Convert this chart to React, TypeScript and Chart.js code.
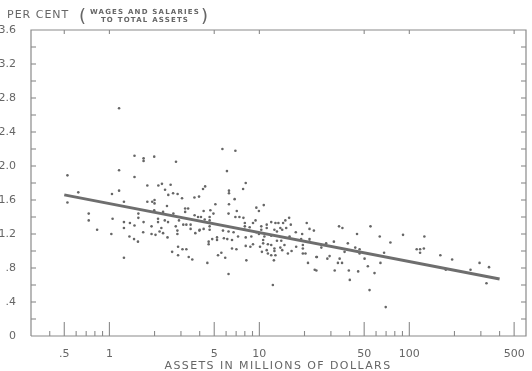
import React, { useEffect, useRef } from "react";
import { Chart, registerables } from "chart.js";

Chart.register(...registerables);

// Assets (millions of dollars) and wages+salaries as per cent of total assets
const assetsSmall = [
  1.16, 1.47, 0.525, 1.16, 1.47, 0.62, 1.04, 1.16, 1.25, 0.525, 0.728, 0.728, 1.05, 1.25, 1.37, 1.47, 1.25, 0.828, 1.03, 1.36, 1.46, 1.25,
  1.69, 1.69, 1.99, 2.78, 1.79, 2.12, 2.24, 2.56, 2.35, 2.47, 2.66, 2.85, 3.05, 3.69, 3.96, 1.79, 1.93, 2.0, 2.0, 2.42, 1.56, 1.56, 1.99, 2.28, 2.67,
  3.2, 3.2, 3.35, 2.11, 2.11, 2.34, 2.46, 2.91, 3.7, 3.9, 1.69, 2.77, 3.11, 3.26, 3.48, 3.48, 1.91, 2.22, 2.16, 1.68, 1.91, 2.03, 2.28, 2.84, 2.84,
  3.74, 3.98, 2.44, 1.55, 2.87, 3.07, 3.26, 2.62, 2.87, 3.38, 3.57,
];
const ratioSmall = [
  2.68, 2.12, 1.89, 1.95, 1.87, 1.69, 1.67, 1.71, 1.58, 1.57, 1.44, 1.36, 1.38, 1.34, 1.33, 1.3, 1.27, 1.25, 1.2, 1.17, 1.14, 0.92,
  2.09, 2.06, 2.11, 2.05, 1.77, 1.77, 1.79, 1.78, 1.72, 1.66, 1.68, 1.67, 1.62, 1.63, 1.64, 1.58, 1.58, 1.6, 1.56, 1.53, 1.44, 1.39, 1.48, 1.46, 1.44,
  1.5, 1.46, 1.5, 1.38, 1.34, 1.36, 1.34, 1.36, 1.42, 1.4, 1.34, 1.29, 1.31, 1.31, 1.31, 1.26, 1.29, 1.27, 1.23, 1.22, 1.2, 1.19, 1.21, 1.24, 1.2,
  1.21, 1.24, 1.16, 1.11, 1.05, 1.02, 1.02, 0.99, 0.95, 0.93, 0.9,
];
const assetsMid = [
  5.67, 6.92, 6.08, 8.11, 7.79, 4.35, 4.21, 6.27, 6.27, 6.84, 5.09, 6.27, 9.55, 9.93, 4.71, 4.25, 7.07, 4.94, 6.23, 6.92, 7.36, 7.83, 4.08, 4.32, 9.43,
  9.07, 4.66, 4.66, 4.66, 4.66, 8.0, 8.0, 8.0, 8.62, 4.0, 4.25, 5.72, 6.23, 6.73, 9.55, 9.93, 7.21, 4.85, 5.22, 5.22, 5.8, 6.57, 6.11, 8.11, 8.84,
  4.59, 4.59, 8.11, 8.71, 9.07, 6.57, 7.03, 5.3, 5.58, 5.92, 8.19, 4.5, 6.23,
];
const ratioMid = [
  2.2, 2.18, 1.94, 1.8, 1.73, 1.76, 1.73, 1.71, 1.68, 1.61, 1.55, 1.55, 1.51, 1.47, 1.48, 1.47, 1.47, 1.44, 1.44, 1.4, 1.4, 1.39, 1.4, 1.37, 1.36,
  1.33, 1.4, 1.36, 1.29, 1.25, 1.33, 1.29, 1.25, 1.28, 1.25, 1.26, 1.24, 1.23, 1.22, 1.22, 1.2, 1.17, 1.14, 1.16, 1.13, 1.15, 1.13, 1.14, 1.16, 1.17,
  1.11, 1.08, 1.06, 1.05, 1.08, 1.03, 1.02, 0.95, 0.98, 0.92, 0.89, 0.86, 0.73,
];
const assetsLarge = [
  10.7, 12.0, 12.8, 13.4, 14.4, 15.8, 14.9, 16.2, 15.1, 13.8, 14.2, 20.7, 21.6, 23.1, 11.2, 11.2, 10.3, 10.3, 12.6, 13.1, 17.5, 19.3, 12.0, 10.8, 15.9,
  19.0, 21.6, 21.6, 13.1, 14.0, 10.6, 10.6, 11.4, 12.0, 14.7, 17.6, 19.5, 19.5, 10.1, 11.2, 13.8, 10.4, 12.6, 12.6, 16.4, 15.5, 14.2, 19.5, 20.3, 11.4,
  12.0, 12.8, 24.0, 21.1, 12.5, 23.4, 12.3,
  34.0, 35.8, 55.1, 44.8, 63.5, 74.8, 31.4, 27.9, 25.9, 25.9, 38.9, 43.6, 46.6, 46.6, 37.0, 67.9, 24.2, 29.4, 28.4, 34.3, 33.4, 35.6, 50.3, 64.2, 52.9,
  31.8, 39.5, 45.6, 58.6, 24.0, 40.1, 54.3, 69.6,
  90.8, 126, 112, 118, 125, 118, 161, 193, 175, 256, 294, 340, 327,
];
const ratioLarge = [
  1.54, 1.34, 1.33, 1.33, 1.33, 1.39, 1.36, 1.31, 1.27, 1.27, 1.25, 1.33, 1.26, 1.24, 1.31, 1.27, 1.29, 1.25, 1.25, 1.23, 1.22, 1.2, 1.18, 1.17, 1.17,
  1.14, 1.14, 1.11, 1.12, 1.12, 1.13, 1.09, 1.08, 1.07, 1.07, 1.05, 1.07, 1.03, 1.05, 1.01, 1.04, 0.99, 1.03, 1.0, 1.0, 0.97, 1.01, 0.97, 0.97, 0.97,
  0.95, 0.95, 0.93, 0.86, 0.89, 0.78, 0.6,
  1.29, 1.27, 1.29, 1.2, 1.17, 1.1, 1.11, 1.09, 1.07, 1.04, 1.09, 1.04, 1.02, 0.97, 0.99, 0.98, 0.93, 0.94, 0.91, 0.91, 0.86, 0.86, 0.91, 0.86, 0.82,
  0.77, 0.77, 0.76, 0.74, 0.77, 0.66, 0.54, 0.34,
  1.19, 1.17, 1.02, 1.02, 1.03, 0.98, 0.95, 0.9, 0.78, 0.78, 0.86, 0.81, 0.62,
];

// Fitted regression line (end points)
const fitX = [0.5, 400];
const fitY = [1.66, 0.67];

// Axes
const X_MIN = 0.3;
const X_MAX = 600;
const Y_MIN = 0;
const Y_MAX = 3.6;
const xTickValues = [0.5, 1, 5, 10, 50, 100, 500];
const xTickLabels = [".5", "1", "5", "10", "50", "100", "500"];
const xMinorTicks = [0.4, 0.6, 0.7, 0.8, 0.9, 2, 3, 4, 6, 7, 8, 9, 20, 30, 40, 60, 70, 80, 90, 200, 300, 400];
const yTickValues = [0, 0.4, 0.8, 1.2, 1.6, 2.0, 2.4, 2.8, 3.2, 3.6];
const yTickLabels = ["0", ".4", ".8", "1.2", "1.6", "2.0", "2.4", "2.8", "3.2", "3.6"];
const yMinorTicks = [0.2, 0.6, 1.0, 1.4, 1.8, 2.2, 2.6, 3.0, 3.4];

const xTitle = "ASSETS IN MILLIONS OF DOLLARS";
const yTitle = "PER CENT";
const yTitleNote1 = "WAGES AND SALARIES";
const yTitleNote2 = "TO TOTAL ASSETS";

const INK = "#666666";
const FRAME = "#8a8a8a";
const FONT = "'DejaVu Sans', sans-serif";

const titlePlugin = {
  id: "titles",
  afterDraw(chart: any) {
    const ctx = chart.ctx;
    ctx.save();
    ctx.fillStyle = INK;
    ctx.textBaseline = "alphabetic";
    ctx.letterSpacing = "1px";
    ctx.font = "11px " + FONT;
    ctx.textAlign = "left";
    ctx.fillText(yTitle, 7, 18);
    ctx.letterSpacing = "0px";
    ctx.font = "18px " + FONT;
    ctx.fillText("(", 79, 22);
    ctx.fillText(")", 201, 22);
    ctx.letterSpacing = "1.2px";
    ctx.font = "bold 7px " + FONT;
    ctx.textAlign = "center";
    ctx.fillText(yTitleNote1, 145, 14);
    ctx.fillText(yTitleNote2, 145, 22);
    ctx.letterSpacing = "1.4px";
    ctx.font = "11px " + FONT;
    ctx.fillText(xTitle, 278, 369);
    ctx.restore();
  },
};

export default function App() {
  const canvasRef = useRef<HTMLCanvasElement | null>(null);

  useEffect(() => {
    if (!canvasRef.current) return;
    const assets = [...assetsSmall, ...assetsMid, ...assetsLarge];
    const ratio = [...ratioSmall, ...ratioMid, ...ratioLarge];
    const points = assets.map((x, i) => ({ x, y: ratio[i] }));
    const fit = fitX.map((x, i) => ({ x, y: fitY[i] }));

    // frame of the plot area, in axis units
    const frame = [
      { x: X_MIN, y: Y_MIN },
      { x: X_MAX, y: Y_MIN },
      { x: X_MAX, y: Y_MAX },
      { x: X_MIN, y: Y_MAX },
      { x: X_MIN, y: Y_MIN },
    ];

    // inward tick marks, one small line dataset each (lengths in axis units)
    const yPerPx = (Y_MAX - Y_MIN) / 306;
    const xFactor5 = Math.pow(10, 5 / 150);
    const tickSets: any[] = [];
    const addTick = (p1: any, p2: any) =>
      tickSets.push({
        type: "line",
        data: [p1, p2],
        borderColor: FRAME,
        borderWidth: 1.1,
        pointRadius: 0,
        fill: false,
        clip: 4,
      });
    xTickValues.forEach((v) => {
      addTick({ x: v, y: Y_MIN }, { x: v, y: Y_MIN + 14 * yPerPx });
      addTick({ x: v, y: Y_MAX - 4 * yPerPx }, { x: v, y: Y_MAX });
    });
    xMinorTicks.forEach((v) => {
      addTick({ x: v, y: Y_MIN }, { x: v, y: Y_MIN + 5 * yPerPx });
    });
    [...yTickValues, ...yMinorTicks].forEach((v) => {
      if (v <= Y_MIN || v >= Y_MAX) return;
      addTick({ x: X_MIN, y: v }, { x: X_MIN * xFactor5, y: v });
      addTick({ x: X_MAX / xFactor5, y: v }, { x: X_MAX, y: v });
    });

    const chart = new Chart(canvasRef.current, {
      type: "scatter",
      data: {
        datasets: [
          {
            type: "line",
            data: fit,
            borderColor: "#6e6e6e",
            borderWidth: 3,
            pointRadius: 0,
            fill: false,
          } as any,
          {
            type: "scatter",
            data: points,
            pointRadius: 1.3,
            pointBackgroundColor: "#666666",
            pointBorderWidth: 0,
          },
          {
            type: "line",
            data: frame,
            borderColor: FRAME,
            borderWidth: 1.2,
            pointRadius: 0,
            fill: false,
            clip: 4,
          } as any,
          ...tickSets,
        ],
      },
      options: {
        animation: false,
        responsive: true,
        maintainAspectRatio: false,
        layout: { padding: { top: 30, right: 6, left: 0, bottom: 0 } },
        plugins: { legend: { display: false }, tooltip: { enabled: false } },
        scales: {
          x: {
            type: "logarithmic",
            min: X_MIN,
            max: X_MAX,
            grid: { display: false },
            border: { display: false },
            afterBuildTicks: (s: any) => {
              s.ticks = xTickValues.map((v) => ({ value: v }));
            },
            afterFit: (s: any) => {
              s.height = 35;
            },
            ticks: {
              autoSkip: false,
              maxRotation: 0,
              minRotation: 0,
              padding: 4,
              color: INK,
              font: { family: FONT, size: 11 },
              callback: (_v: any, i: number) => xTickLabels[i],
            },
          },
          y: {
            min: Y_MIN,
            max: Y_MAX,
            grid: { display: false },
            border: { display: false },
            afterBuildTicks: (s: any) => {
              s.ticks = yTickValues.map((v) => ({ value: v }));
            },
            afterFit: (s: any) => {
              s.width = 31;
            },
            ticks: {
              padding: 7,
              color: INK,
              font: { family: FONT, size: 11 },
              callback: (_v: any, i: number) => yTickLabels[i],
            },
          },
        },
      },
      plugins: [titlePlugin],
    });
    return () => chart.destroy();
  }, []);

  return (
    <div style={{ position: "fixed", left: 0, top: 0, width: 532, height: 371, background: "#fff" }}>
      <canvas ref={canvasRef} />
    </div>
  );
}
